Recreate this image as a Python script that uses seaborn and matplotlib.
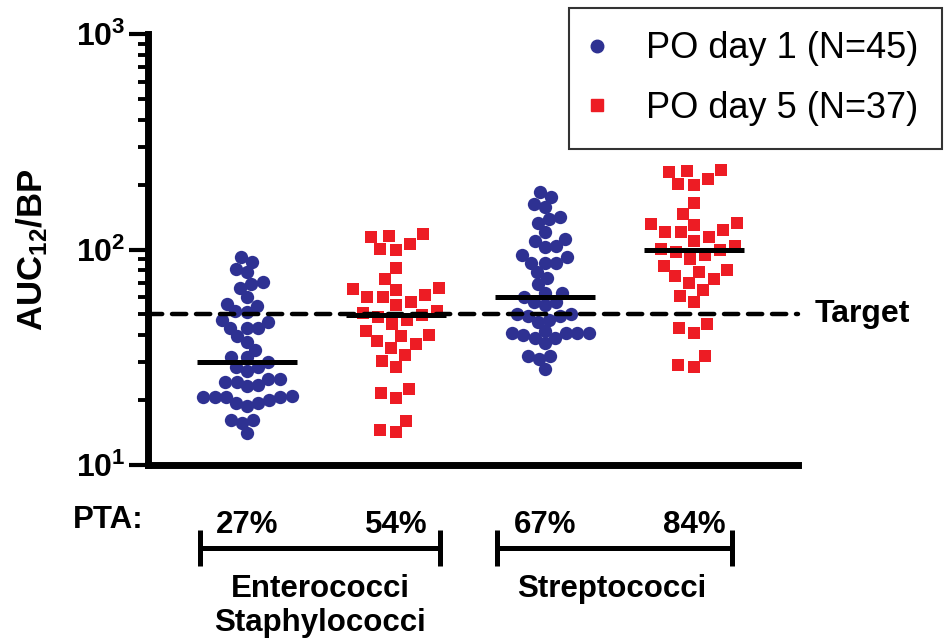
import numpy as np
import pandas as pd
import matplotlib
matplotlib.use("Agg")
import matplotlib.pyplot as plt
import matplotlib.transforms as mtransforms
from matplotlib.collections import PathCollection
from matplotlib.colors import to_rgba
from matplotlib.lines import Line2D
from matplotlib.ticker import NullFormatter, LogLocator
import seaborn as sns

# AUC12/BP values
groups = ["Entero_d1", "Entero_d5", "Strep_d1", "Strep_d5"]
entero_day1 = [92.5, 87.7, 81.1, 78.8, 70.8, 68.8, 66.4, 60.3, 56.1, 54.5, 51.8, 51.3,
               46.9, 46.1, 43.4, 43.4, 43.4, 39.5, 37.2, 34.3, 31.6, 31.6, 30.0, 28.4,
               28.4, 27.4, 25.1, 25.1, 24.4, 24.4, 23.6, 23.2, 20.9, 20.7, 20.6, 20.6,
               20.6, 20.0, 19.3, 19.3, 18.7, 16.2, 16.2, 15.7, 14.1]
entero_day5 = [60, 50.5, 37.5, 114.5, 82, 65.5, 57, 47, 32.5, 117.5, 100.5, 65, 48.5,
               42, 36.5, 22.5, 106.5, 66.5, 55, 40, 28.5, 20.5, 115.5, 100, 73, 60.5,
               52, 45, 35, 30.5, 21.5, 61.5, 49.5, 39.5, 14.2, 16, 14.5]
strep_day1 = [185, 175, 162, 158, 142, 138, 133, 121, 112, 109, 104, 103, 94, 92, 87,
              87, 87, 79, 74, 69, 63, 63, 60, 57, 57, 55, 50, 50, 49, 49, 47, 46, 42,
              41, 41, 41, 41, 40, 39, 39, 37, 32, 32, 31, 28]
strep_day5 = [120, 101, 75, 229, 164, 131, 114, 94, 65, 235, 201, 130, 97, 84, 73, 45,
              213, 133, 110, 80, 57, 41, 231, 200, 146, 121, 104, 90, 70, 61, 43, 123,
              99, 79, 28.4, 32, 29]
target = 50
pta_labels = ["27%", "54%", "67%", "84%"]
legend_labels = ["PO day 1 (N=45)", "PO day 5 (N=37)"]

blue = "#2E3192"
red = "#ED1C24"

series = [entero_day1, entero_day5, strep_day1, strep_day5]
days = ["day1", "day5", "day1", "day5"]
df = pd.concat([pd.DataFrame({"group": g, "value": v, "day": d})
                for g, v, d in zip(groups, series, days)], ignore_index=True)

sns.set_style("white")
plt.rcParams["font.family"] = ["Liberation Sans", "DejaVu Sans"]
plt.rcParams["text.color"] = "black"
plt.rcParams["axes.labelcolor"] = "black"
plt.rcParams["ytick.color"] = "black"
plt.rcParams["mathtext.fontset"] = "custom"
plt.rcParams["mathtext.rm"] = "Liberation Sans:bold"
plt.rcParams["mathtext.bf"] = "Liberation Sans:bold"

W, H = 946, 643
fig = plt.figure(figsize=(W / 100, H / 100), dpi=100)
ax = fig.add_axes([148 / W, 1 - 465 / H, 650 / W, 431 / H])
ax.set_yscale("log")

# swarm spacing sizes (markers get redrawn at their own size below)
sns.swarmplot(data=df[df.day == "day1"], x="group", y="value", order=groups,
              color=blue, marker="o", size=7.9, linewidth=0, ax=ax)
sns.swarmplot(data=df[df.day == "day5"], x="group", y="value", order=groups,
              color=red, marker="s", size=10.8, linewidth=0, ax=ax)

# median bars
for i, vals in enumerate(series):
    ax.hlines(np.median(vals), i - 0.335, i + 0.335, color="black", lw=3.6, zorder=5)

ax.set_xlim(-0.664, 3.698)
ax.set_ylim(10, 1000)

# target line
ax.axhline(target, color="black", lw=3.2, ls=(0, (3.2, 2.2)), dash_capstyle="round",
           zorder=4, clip_on=False)
ax.text(1.026, target, "Target", transform=mtransforms.blended_transform_factory(ax.transAxes, ax.transData),
        ha="left", va="center", fontsize=23, fontweight="bold")

# axes styling
for s in ["top", "right"]:
    ax.spines[s].set_visible(False)
for s in ["left", "bottom"]:
    ax.spines[s].set_linewidth(5)
    ax.spines[s].set_color("black")
ax.set_xticks([])
ax.set_xlabel("")
ax.set_yticks([10, 100, 1000])
ax.set_yticklabels([r"$\mathbf{10^{1}}$", r"$\mathbf{10^{2}}$", r"$\mathbf{10^{3}}$"], fontsize=23)
ax.yaxis.set_minor_locator(LogLocator(base=10, subs=np.arange(2, 10)))
ax.yaxis.set_minor_formatter(NullFormatter())
ax.tick_params(axis="y", which="major", length=14, width=3, pad=2, left=True)
ax.tick_params(axis="y", which="minor", length=7.5, width=2.8, left=True)
ax.set_ylabel(r"$\mathbf{AUC_{12}/BP}$", fontsize=25)
ax.yaxis.set_label_coords(-0.15, 0.5)

# PTA row and organism brackets
trans = mtransforms.blended_transform_factory(ax.transData, ax.transAxes)
ax.text(-0.062, -0.128, "PTA:", transform=ax.transAxes, ha="center", va="center",
        fontsize=22.5, fontweight="bold")
for i, lab in enumerate(pta_labels):
    ax.text(i, -0.139, lab, transform=trans, ha="center", va="center",
            fontsize=22.5, fontweight="bold")

brackets = [(-0.315, 1.295, "Enterococci\nStaphylococci", 0.49),
            (1.678, 3.255, "Streptococci", 2.45)]
for x0, x1, name, xc in brackets:
    ax.plot([x0, x1], [-0.193, -0.193], color="black", lw=3.6, transform=trans, clip_on=False)
    for xe in (x0, x1):
        ax.plot([xe, xe], [-0.151, -0.234], color="black", lw=3.6, transform=trans,
                clip_on=False, solid_capstyle="butt")
    ax.text(xc, -0.252, name, transform=trans, ha="center", va="top",
            fontsize=22.5, fontweight="bold", linespacing=1.2)

# legend
handles = [Line2D([], [], marker="o", ls="", color=blue, markersize=9),
           Line2D([], [], marker="s", ls="", color=red, markersize=8.5)]
leg = fig.legend(handles, legend_labels, loc="upper right",
                 bbox_to_anchor=(942 / W, 1 - 8 / H), frameon=True, fancybox=False,
                 fontsize=26, handletextpad=1.2, borderpad=0.65, labelspacing=0.67,
                 handlelength=0.3, borderaxespad=0)
leg.get_frame().set_edgecolor("black")
leg.get_frame().set_linewidth(1.5)

# let seaborn place the swarms once, then freeze them and draw the real marker size
fig.canvas.draw()
for coll in ax.collections:
    if isinstance(coll, PathCollection) and len(coll.get_offsets()):
        coll.__dict__.pop("draw", None)
        is_blue = np.allclose(coll.get_facecolor()[0], to_rgba(blue))
        coll.set_sizes([9.6 ** 2 if is_blue else 9.3 ** 2])

fig.savefig("out.png", dpi=100, facecolor="white")
